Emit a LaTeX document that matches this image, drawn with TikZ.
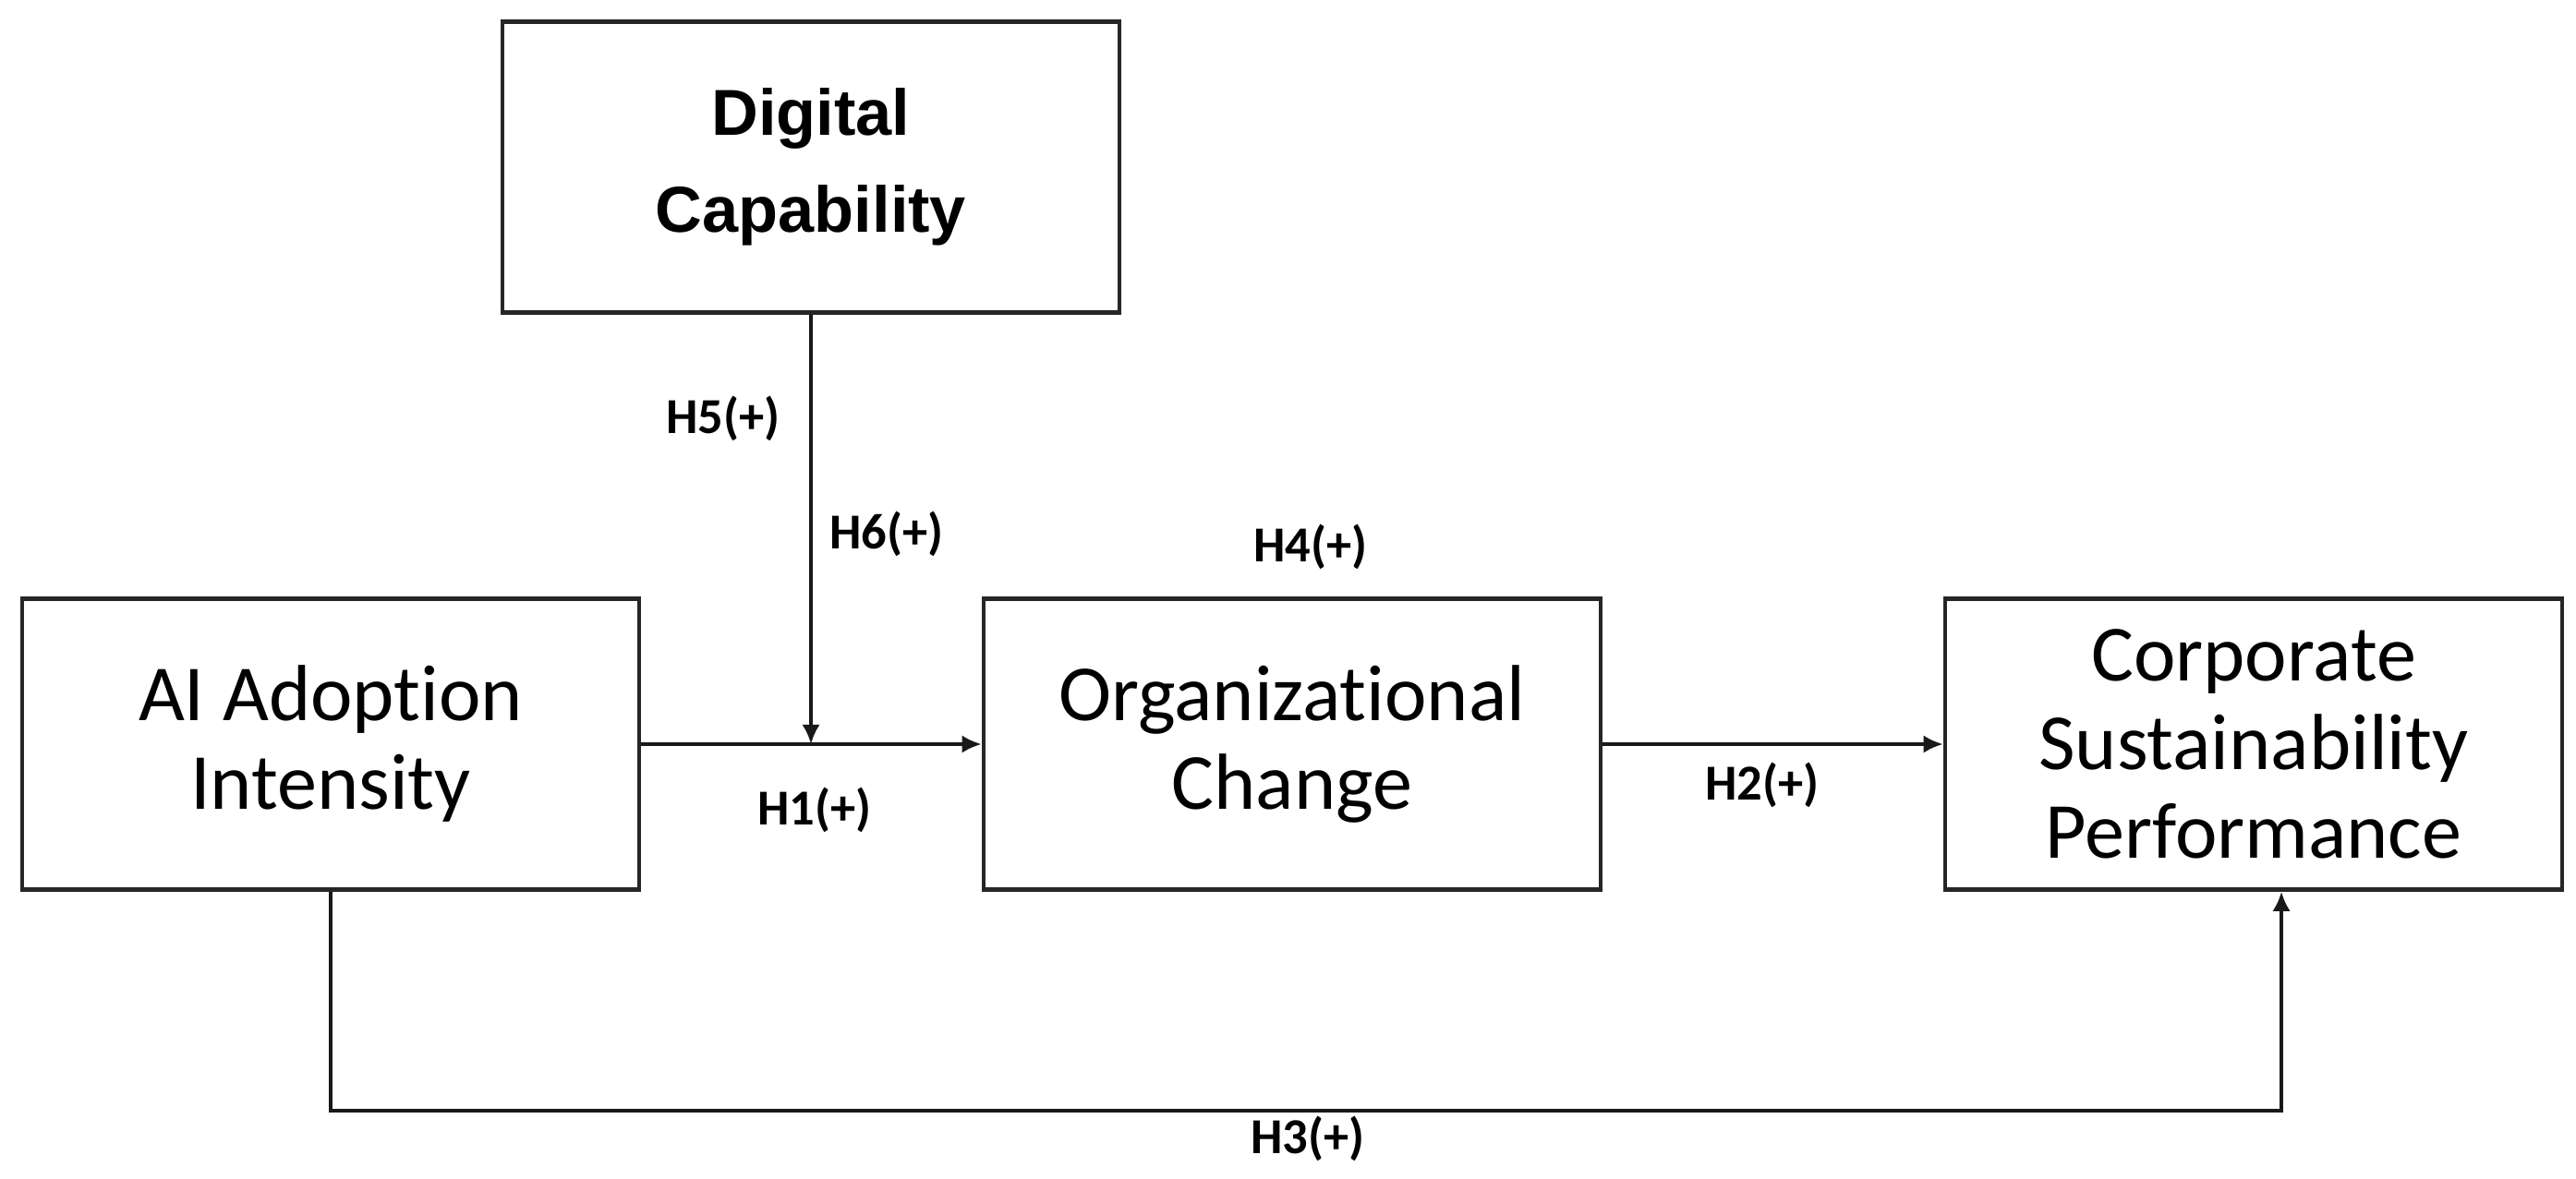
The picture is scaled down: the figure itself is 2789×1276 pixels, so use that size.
\documentclass[tikz,border=0pt]{standalone}
\usepackage{fontspec}
\setmainfont{Carlito}[Ligatures=NoCommon]
\newfontfamily\arialfont{Liberation Sans}
\usepackage{tikz}
\usetikzlibrary{arrows.meta}
\newcommand{\boxFont}{\fontsize{24.5}{27.3}\selectfont}
\newcommand{\hypFont}{\fontsize{15.5}{18}\selectfont\bfseries}
\tikzset{
  construct/.style={draw=black!85, line width=1.2pt, minimum width=6.68cm, minimum height=3.15cm, inner sep=0pt, align=center, font=\boxFont},
  link/.style={draw=black!90, line width=1.1pt, -{Latex[length=6pt,width=5.5pt]}},
  hyp/.style={font=\hypFont}
}

\begin{document}
\begin{tikzpicture}[x=0.01cm,y=-0.01cm]
\useasboundingbox (0,0) rectangle (2789,1276);
\node[construct, font=\arialfont\bfseries\fontsize{20}{30}\selectfont] (dc) at (878,181) {Digital\\Capability};
\node[construct] (ai) at (358,806) {AI Adoption\\Intensity};
\node[construct] (oc) at (1399,806) {Organizational\\Change};
\node[construct] (csp) at (2440,806) {Corporate\\Sustainability\\Performance};
\coordinate (mod) at (dc.south |- ai.east);
\coordinate (h3in) at ([xshift=0.3cm]csp.south);
\coordinate (h3low) at (0,1203);
\draw[link] (ai.east) -- (oc.west);
\draw[link] (oc.east) -- (csp.west);
\draw[link] (dc.south) -- (mod);
\draw[link] (ai.south) |- (h3low -| h3in) -- (h3in);
\node[hyp] (h1) at (882,877) {H1(+)};
\node[hyp] (h2) at (1908,850) {H2(+)};
\node[hyp] (h3) at (1416,1233) {H3(+)};
\node[hyp] (h4) at (1419,592) {H4(+)};
\node[hyp] (h5) at (783,453) {H5(+)};
\node[hyp] (h6) at (960,578) {H6(+)};
\end{tikzpicture}
\end{document}
